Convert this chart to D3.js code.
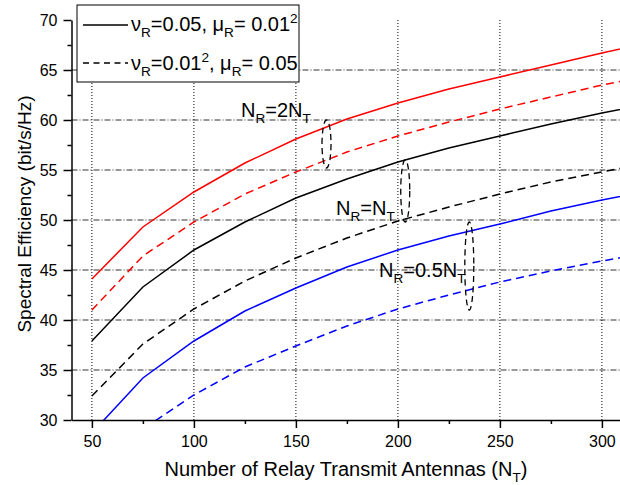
<!DOCTYPE html>
<html><head><meta charset="utf-8">
<script src="https://cdn.jsdelivr.net/npm/d3@7"></script>
<style>body{margin:0;background:#fff} text{font-family:"Liberation Sans",Arial,Helvetica,sans-serif;fill:#000}</style>
</head><body><svg id="c" width="620" height="485"></svg>
<script>
// ---- data ----
const antennas   = [50, 75, 100, 125, 150, 175, 200, 225, 250, 275, 300, 325];
const redSolid   = [44.1, 49.3, 52.8, 55.7, 58.1, 60.1, 61.7, 63.1, 64.3, 65.5, 66.7, 67.8];
const redDashed  = [41.0, 46.4, 49.8, 52.6, 54.8, 56.8, 58.4, 59.8, 61.1, 62.3, 63.5, 64.5];
const blackSolid = [37.9, 43.3, 47.0, 49.8, 52.2, 54.1, 55.8, 57.2, 58.4, 59.6, 60.7, 61.7];
const blackDashed= [32.4, 37.6, 41.1, 43.9, 46.2, 48.2, 49.9, 51.3, 52.6, 53.8, 54.8, 55.8];
const blueSolid  = [28.7, 34.2, 37.9, 40.9, 43.2, 45.3, 47.0, 48.4, 49.6, 50.9, 52.0, 53.0];
const blueDashed = [23.5, 29.1, 32.5, 35.3, 37.4, 39.4, 41.1, 42.5, 43.8, 44.9, 45.9, 46.8];
const xTicks = [50, 100, 150, 200, 250, 300];
const xMinor = [75, 125, 175, 225, 275];
const yTicks = [30, 35, 40, 45, 50, 55, 60, 65, 70];
const yMinor = [32.5, 37.5, 42.5, 47.5, 52.5, 57.5, 62.5, 67.5];
const yGrid  = [35, 40, 45, 50, 55, 60, 65];
// annotation ellipses: [N, center value, half-height in value units]
const ellipses = [[165, 57.6, 2.4], [203.6, 52.9, 3.1], [235, 45.4, 4.4]];

const series = [
  {v: redSolid,   c: "#ff0000", d: null},
  {v: redDashed,  c: "#ff0000", d: "8,5"},
  {v: blackSolid, c: "#000000", d: null},
  {v: blackDashed,c: "#000000", d: "8,5"},
  {v: blueSolid,  c: "#0000ff", d: null},
  {v: blueDashed, c: "#0000ff", d: "8,5"}
];

const svg = d3.select("#c");
const x = d3.scaleLinear().domain([40, 310]).range([71.5, 622.3]);
const y = d3.scaleLinear().domain([30, 70]).range([420, 20]);

svg.append("defs").append("clipPath").attr("id","clip")
  .append("rect").attr("x", x(40)).attr("y", y(70)).attr("width", 620 - x(40)).attr("height", y(30) - y(70));

// grid
const g = svg.append("g");
g.selectAll(".vg").data(xTicks).join("line")
  .attr("x1", d => x(d)).attr("x2", d => x(d)).attr("y1", y(30)).attr("y2", y(70))
  .attr("stroke", "#000").attr("stroke-width", 1).attr("stroke-dasharray", "1,2");
g.selectAll(".hg").data(yGrid).join("line")
  .attr("x1", x(40)).attr("x2", 620).attr("y1", d => y(d)).attr("y2", d => y(d))
  .attr("stroke", "#333").attr("stroke-width", 1).attr("stroke-dasharray", "6,2,1,2");

// lines
const line = d3.line().x((d, i) => x(antennas[i])).y(d => y(d));
const lg = svg.append("g").attr("clip-path", "url(#clip)");
series.forEach(s => {
  lg.append("path").datum(s.v).attr("d", line).attr("fill", "none")
    .attr("stroke", s.c).attr("stroke-width", 1.5)
    .attr("stroke-dasharray", s.d);
});

// axes
svg.append("g").attr("transform", `translate(0,${y(30)})`)
  .call(d3.axisBottom(x).tickValues(xTicks).tickSize(8).tickSizeOuter(0).tickPadding(8));
svg.append("g").attr("transform", `translate(0,${y(30)})`)
  .call(d3.axisBottom(x).tickValues(xMinor).tickSize(4).tickSizeOuter(0).tickFormat(""))
  .select(".domain").remove();
svg.append("g").attr("transform", `translate(${x(40)},0)`)
  .call(d3.axisLeft(y).tickValues(yTicks).tickSize(8).tickSizeOuter(0).tickPadding(6));
svg.append("g").attr("transform", `translate(${x(40)},0)`)
  .call(d3.axisLeft(y).tickValues(yMinor).tickSize(4).tickSizeOuter(0).tickFormat(""))
  .select(".domain").remove();
svg.selectAll(".tick line").attr("stroke", "#000").attr("stroke-width", 1.5);
svg.selectAll(".domain").attr("stroke", "#000").attr("stroke-width", 1.5);
svg.selectAll(".tick text").attr("font-size", 16).attr("font-family", '"Liberation Sans",Arial,sans-serif').attr("fill", "#000");

// rich text helper
function rich(parent, px, py, parts, size, anchor) {
  const t = parent.append("text").attr("x", px).attr("y", py).attr("font-size", size)
    .attr("text-anchor", anchor || "start");
  let shift = 0;
  parts.forEach(p => {
    const ts = t.append("tspan").text(p[0]);
    let target = 0, fs = size;
    if (p[1] === "sub") { target = size * 0.3; fs = size * 0.68; }
    if (p[1] === "sup") { target = -size * 0.42; fs = size * 0.68; }
    ts.attr("dy", target - shift).attr("font-size", fs);
    shift = target;
  });
  return t;
}

// axis titles
rich(svg, 346, 476, [["Number of Relay Transmit Antennas (N"], ["T", "sub"], [")"]], 20, "middle");
const yt = svg.append("g").attr("transform", "translate(31,214) rotate(-90)");
rich(yt, 0, 0, [["Spectral Efficiency (bit/s/Hz)"]], 19, "middle");

// ellipses
svg.selectAll(".ell").data(ellipses).join("ellipse")
  .attr("cx", d => x(d[0])).attr("cy", d => y(d[1]))
  .attr("rx", 4.5).attr("ry", d => y(d[1] - d[2]) - y(d[1]))
  .attr("fill", "none").attr("stroke", "#000").attr("stroke-width", 1.3).attr("stroke-dasharray", "6,4");

// annotations
rich(svg, 241, 117, [["N"], ["R", "sub"], ["=2N"], ["T", "sub"]], 20);
rich(svg, 336, 215, [["N"], ["R", "sub"], ["=N"], ["T", "sub"]], 20);
rich(svg, 379, 277, [["N"], ["R", "sub"], ["=0.5N"], ["T", "sub"]], 20);

// legend
const leg = svg.append("g");
leg.append("rect").attr("x", 77).attr("y", 5).attr("width", 222).attr("height", 77)
  .attr("fill", "#fff").attr("stroke", "#000").attr("stroke-width", 1);
leg.append("line").attr("x1", 83).attr("x2", 128).attr("y1", 25).attr("y2", 25)
  .attr("stroke", "#000").attr("stroke-width", 1.5);
leg.append("line").attr("x1", 83).attr("x2", 128).attr("y1", 63).attr("y2", 63)
  .attr("stroke", "#000").attr("stroke-width", 1.5).attr("stroke-dasharray", "6,4.5");
rich(leg, 131, 31, [["ν"], ["R", "sub"], ["=0.05, μ"], ["R", "sub"], ["= 0.01"], ["2", "sup"]], 20);
rich(leg, 131, 70, [["ν"], ["R", "sub"], ["=0.01"], ["2", "sup"], [", μ"], ["R", "sub"], ["= 0.05"]], 20);
</script></body></html>
